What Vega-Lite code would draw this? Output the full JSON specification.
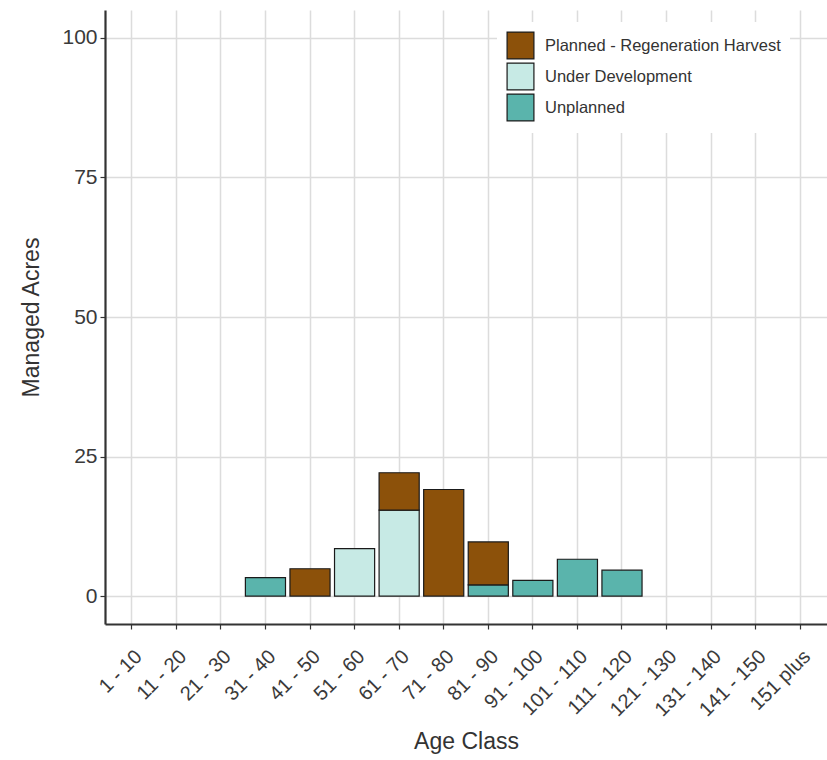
{
  "$schema": "https://vega.github.io/schema/vega-lite/v6.json",
  "autosize": "none",
  "width": 722,
  "height": 614,
  "padding": {"left": 105, "top": 10, "right": 0, "bottom": 136},
  "background": "white",
  "config": {
    "font": "Liberation Sans",
    "view": {"stroke": null},
    "axis": {
      "domainColor": "#333333",
      "domainWidth": 2.2,
      "tickColor": "#333333",
      "tickWidth": 1.2,
      "tickSize": 5,
      "gridColor": "#dcdcdc",
      "gridWidth": 1.5,
      "labelColor": "#3a3a3a",
      "titleColor": "#333333",
      "labelFont": "Liberation Sans",
      "titleFont": "Liberation Sans",
      "titleFontWeight": "normal"
    }
  },
  "data": {
    "values": [
      {"age": "31 - 40", "type": "Unplanned", "acres": 3.3},
      {"age": "41 - 50", "type": "Planned - Regeneration Harvest", "acres": 4.9},
      {"age": "51 - 60", "type": "Under Development", "acres": 8.5},
      {"age": "61 - 70", "type": "Under Development", "acres": 15.4},
      {"age": "61 - 70", "type": "Planned - Regeneration Harvest", "acres": 6.7},
      {"age": "71 - 80", "type": "Planned - Regeneration Harvest", "acres": 19.1},
      {"age": "81 - 90", "type": "Unplanned", "acres": 2.0},
      {"age": "81 - 90", "type": "Planned - Regeneration Harvest", "acres": 7.7},
      {"age": "91 - 100", "type": "Unplanned", "acres": 2.8},
      {"age": "101 - 110", "type": "Unplanned", "acres": 6.6},
      {"age": "111 - 120", "type": "Unplanned", "acres": 4.65}
    ]
  },
  "mark": {"type": "bar", "stroke": "#1a1a1a", "strokeWidth": 1.2},
  "encoding": {
    "x": {
      "field": "age",
      "type": "nominal",
      "sort": ["1 - 10", "11 - 20", "21 - 30", "31 - 40", "41 - 50", "51 - 60", "61 - 70", "71 - 80", "81 - 90", "91 - 100", "101 - 110", "111 - 120", "121 - 130", "131 - 140", "141 - 150", "151 plus"],
      "scale": {
        "domain": ["1 - 10", "11 - 20", "21 - 30", "31 - 40", "41 - 50", "51 - 60", "61 - 70", "71 - 80", "81 - 90", "91 - 100", "101 - 110", "111 - 120", "121 - 130", "131 - 140", "141 - 150", "151 plus"],
        "paddingInner": 0.1,
        "paddingOuter": 0.15
      },
      "axis": {
        "title": "Age Class",
        "titleFontSize": 23,
        "titlePadding": 11,
        "labelFontSize": 20,
        "labelAngle": -45,
        "labelAlign": "right",
        "labelBaseline": "top",
        "labelPadding": 17,
        "grid": true,
        "bandPosition": 0.5
      }
    },
    "y": {
      "field": "acres",
      "type": "quantitative",
      "aggregate": "sum",
      "stack": "zero",
      "scale": {"domain": [-5, 105], "nice": false, "zero": false},
      "axis": {
        "title": "Managed Acres",
        "titleFontSize": 23,
        "titlePadding": 18,
        "labelFontSize": 21,
        "labelPadding": 3,
        "values": [0, 25, 50, 75, 100],
        "grid": true
      }
    },
    "color": {
      "field": "type",
      "type": "nominal",
      "scale": {
        "domain": ["Planned - Regeneration Harvest", "Under Development", "Unplanned"],
        "range": ["#8C510A", "#C7EAE5", "#5AB4AC"]
      },
      "legend": {
        "title": null,
        "orient": "none",
        "legendX": 392,
        "legendY": 12,
        "symbolType": "square",
        "symbolSize": 720,
        "symbolStrokeColor": "#1a1a1a",
        "symbolStrokeWidth": 1.2,
        "symbolOpacity": 1,
        "labelFontSize": 16.5,
        "labelColor": "#333333",
        "labelOffset": 10,
        "labelLimit": 400,
        "rowPadding": -12,
        "padding": 9,
        "fillColor": "white"
      }
    },
    "order": {"field": "type", "sort": "descending"}
  }
}
